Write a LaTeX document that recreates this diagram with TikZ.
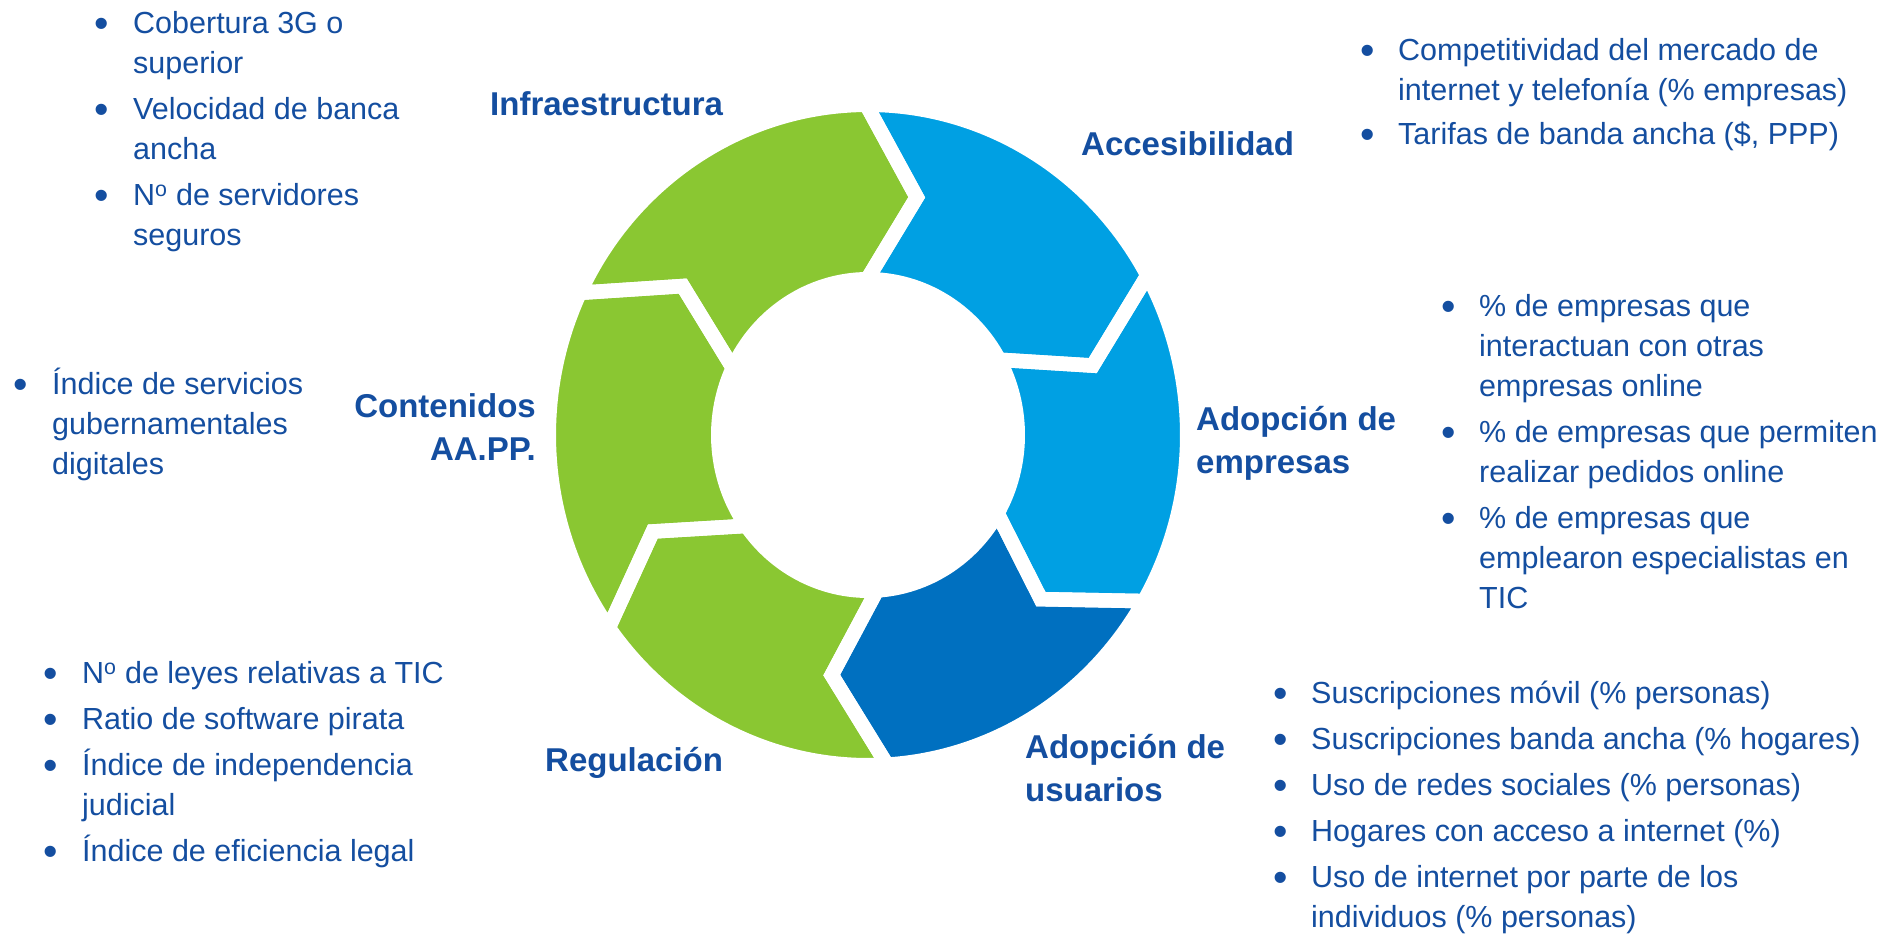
\documentclass[tikz,border=0pt]{standalone}
\usepackage{fontspec}
\setmainfont{Liberation Sans}
\usepackage{array}
\definecolor{cgreen}{RGB}{138,199,50}
\definecolor{clblue}{RGB}{0,160,227}
\definecolor{cdblue}{RGB}{0,112,192}
\definecolor{ctext}{RGB}{20,78,160}
\newcommand{\bul}{\makebox[0pt][c]{\raisebox{-3.8pt}{\scalebox{1.35}{•}}}}
\newcommand{\ringseg}[2]{(#1:319.25 and 330.25) arc[start angle=#1, end angle=#2, x radius=319.25, y radius=330.25]
  -- ({#2-12.3}:234.5 and 243) -- (#2:149.75 and 155.75)
  arc[start angle=#2, end angle=#1, x radius=149.75, y radius=155.75]
  -- ({#1-12.3}:234.5 and 243) -- cycle}
\begin{document}
\begin{tikzpicture}[x=1pt,y=1pt,
  lbl/.style={text=ctext, font=\fontsize{33}{42.5}\selectfont\bfseries, inner sep=0pt, anchor=base west},
  lst/.style={text=ctext, font=\fontsize{30.5}{40}\selectfont, inner sep=0pt, anchor=base west},
  gapline/.style={draw=white, line width=14.5pt, line join=miter}]
\useasboundingbox (0,0) rectangle (1885,935);
\fill[white] (0,0) rectangle (1885,935);

\begin{scope}[shift={(868,500)}]
  \fill[cgreen] \ringseg{154.5}{90.3};
  \fill[clblue] \ringseg{90.3}{28.9};
  \fill[clblue] \ringseg{28.9}{-30.2};
  \fill[cdblue] \ringseg{-30.2}{-86.6};
  \fill[cgreen] \ringseg{-86.6}{-144.3};
  \fill[cgreen] \ringseg{215.7}{154.5};
  \draw[gapline] \ringseg{154.5}{90.3};
  \draw[gapline] \ringseg{90.3}{28.9};
  \draw[gapline] \ringseg{28.9}{-30.2};
  \draw[gapline] \ringseg{-30.2}{-86.6};
  \draw[gapline] \ringseg{-86.6}{-144.3};
  \draw[gapline] \ringseg{215.7}{154.5};
\end{scope}

% category labels
\node[lbl] (infra) at (490,819) {Infraestructura};
\node[lbl] (acces) at (1081,779) {Accesibilidad};
\node[lbl, anchor=base east] (conten) at (536,517) {\begin{tabular}[t]{@{}r@{}}Contenidos\\AA.PP.\end{tabular}};
\node[lbl] (empre) at (1196,504) {\begin{tabular}[t]{@{}l@{}}Adopción de\\empresas\end{tabular}};
\node[lbl] (regul) at (545,164) {Regulación};
\node[lbl] (usuar) at (1025,176) {\begin{tabular}[t]{@{}l@{}}Adopción de\\usuarios\end{tabular}};

% indicator lists
\node[lst] (linfra) at (102,901) {\begin{tabular}[t]{@{}l@{\hspace{31pt}}l@{}}
\bul & Cobertura 3G o\\ & superior\\[6pt]
\bul & Velocidad de banca\\ & ancha\\[6pt]
\bul & N\textsuperscript{o} de servidores\\ & seguros
\end{tabular}};

\node[lst] (lacces) at (1367,874) {\begin{tabular}[t]{@{}l@{\hspace{31pt}}l@{}}
\bul & Competitividad del mercado de\\ & internet y telefonía (\% empresas)\\[4pt]
\bul & Tarifas de banda ancha (\$, PPP)
\end{tabular}};

\node[lst] (lconten) at (21,540) {\begin{tabular}[t]{@{}l@{\hspace{31pt}}l@{}}
\bul & Índice de servicios\\ & gubernamentales\\ & digitales
\end{tabular}};

\node[lst] (lempre) at (1448,618) {\begin{tabular}[t]{@{}l@{\hspace{31pt}}l@{}}
\bul & \% de empresas que\\ & interactuan con otras\\ & empresas online\\[6pt]
\bul & \% de empresas que permiten\\ & realizar pedidos online\\[6pt]
\bul & \% de empresas que\\ & emplearon especialistas en\\ & TIC
\end{tabular}};

\node[lst] (lregul) at (51,251) {\begin{tabular}[t]{@{}l@{\hspace{31pt}}l@{}}
\bul & N\textsuperscript{o} de leyes relativas a TIC\\[6pt]
\bul & Ratio de software pirata\\[6pt]
\bul & Índice de independencia\\ & judicial\\[6pt]
\bul & Índice de eficiencia legal
\end{tabular}};

\node[lst] (lusuar) at (1280,231) {\begin{tabular}[t]{@{}l@{\hspace{31pt}}l@{}}
\bul & Suscripciones móvil (\% personas)\\[6pt]
\bul & Suscripciones banda ancha (\% hogares)\\[6pt]
\bul & Uso de redes sociales (\% personas)\\[6pt]
\bul & Hogares con acceso a internet (\%)\\[6pt]
\bul & Uso de internet por parte de los\\ & individuos (\% personas)
\end{tabular}};
\end{tikzpicture}
\end{document}
